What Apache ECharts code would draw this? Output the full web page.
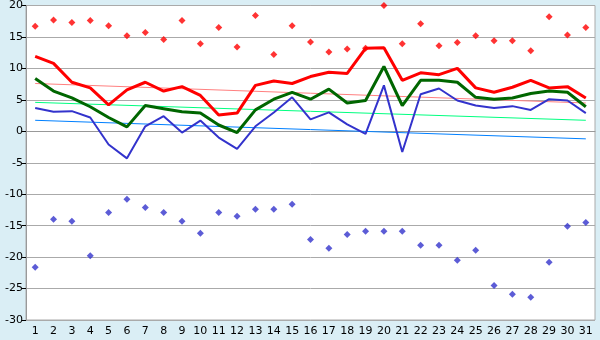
<!DOCTYPE html>
<html><head><meta charset="utf-8">
<script src="https://cdn.jsdelivr.net/npm/echarts@6/dist/echarts.min.js"></script>
<style>html,body{margin:0;padding:0;background:#daeef5;}#c{width:600px;height:340px;}</style>
</head><body><div id="c"></div>
<script>
const days = ["1","2","3","4","5","6","7","8","9","10","11","12","13","14","15","16","17","18","19","20","21","22","23","24","25","26","27","28","29","30","31"];
const yTicks = {min: -30, max: 20, interval: 5};
const maxAvg = [11.9,10.8,7.8,6.9,4.2,6.6,7.8,6.4,7.1,5.7,2.6,2.9,7.3,8.0,7.6,8.7,9.4,9.2,13.2,13.3,8.1,9.3,9.0,10.0,6.9,6.2,7.0,8.1,6.9,7.1,5.3];
const meanAvg = [8.4,6.4,5.3,3.9,2.2,0.7,4.1,3.6,3.1,2.9,1.0,-0.2,3.4,5.1,6.2,5.1,6.7,4.5,4.9,10.3,4.1,8.1,8.1,7.8,5.4,5.1,5.3,6.0,6.4,6.2,3.9];
const minAvg = [3.7,3.1,3.2,2.2,-2.1,-4.3,0.8,2.4,-0.2,1.7,-1.0,-2.8,0.8,3.0,5.4,1.9,3.0,1.1,-0.4,7.3,-3.3,5.9,6.8,4.9,4.1,3.7,4.0,3.4,5.1,4.9,2.9];
const maxAbs = [16.7,17.7,17.3,17.6,16.8,15.2,15.7,14.6,17.6,13.9,16.5,13.4,18.4,12.2,16.8,14.2,12.6,13.1,13.2,20.0,13.9,17.1,13.6,14.1,15.2,14.4,14.4,12.8,18.2,15.3,16.5];
const minAbs = [-21.6,-14.0,-14.3,-19.8,-12.9,-10.8,-12.1,-12.9,-14.3,-16.2,-12.9,-13.5,-12.4,-12.4,-11.6,-17.2,-18.6,-16.4,-15.9,-15.9,-15.9,-18.1,-18.1,-20.5,-18.9,-24.5,-25.9,-26.4,-20.8,-15.1,-14.5];
const maxTrend = [7.6, 4.5];
const meanTrend = [4.6, 1.75];
const minTrend = [1.75, -1.2];

const last = days.length - 1;
const trend = (t) => [[0, t[0]], [last, t[1]]];
const font = 'DejaVu Sans';
const chart = echarts.init(document.getElementById('c'), null, {renderer: 'canvas'});
chart.setOption({
  animation: false,
  backgroundColor: '#daeef5',
  grid: {left: 26, right: 5, top: 5, bottom: 20, show: true, backgroundColor: '#ffffff', borderColor: '#aaaaaa', borderWidth: 1},
  xAxis: {
    type: 'category', data: days, boundaryGap: true,
    axisLine: {lineStyle: {color: '#999999'}},
    axisTick: {alignWithLabel: true, length: 5, lineStyle: {color: '#000000'}},
    axisLabel: {color: '#000000', fontSize: 11, fontFamily: font, margin: 6, interval: 0},
    splitLine: {show: false}
  },
  yAxis: {
    type: 'value', min: yTicks.min, max: yTicks.max, interval: yTicks.interval,
    axisLine: {show: true, lineStyle: {color: '#999999'}},
    axisTick: {show: true, length: 4, lineStyle: {color: '#000000'}},
    axisLabel: {color: '#000000', fontSize: 11, fontFamily: font, margin: 3},
    splitLine: {lineStyle: {color: '#aaaaaa', width: 1}}
  },
  series: [
    {type: 'line', data: trend(maxTrend), symbol: 'none', lineStyle: {color: '#ff8080', width: 1}, silent: true},
    {type: 'line', data: trend(meanTrend), symbol: 'none', lineStyle: {color: '#00ff80', width: 1}, silent: true},
    {type: 'line', data: trend(minTrend), symbol: 'none', lineStyle: {color: '#0080ff', width: 1}, silent: true},
    {type: 'scatter', data: maxAbs, symbol: 'diamond', symbolSize: 7, itemStyle: {color: '#ff0000'}},
    {type: 'scatter', data: minAbs, symbol: 'diamond', symbolSize: 7, itemStyle: {color: '#3333cc'}},
    {type: 'line', data: maxAvg, symbol: 'none', lineStyle: {color: '#ff0000', width: 3}},
    {type: 'line', data: meanAvg, symbol: 'none', lineStyle: {color: '#006600', width: 3}},
    {type: 'line', data: minAvg, symbol: 'none', lineStyle: {color: '#3333cc', width: 2}}
  ]
});
</script></body></html>
